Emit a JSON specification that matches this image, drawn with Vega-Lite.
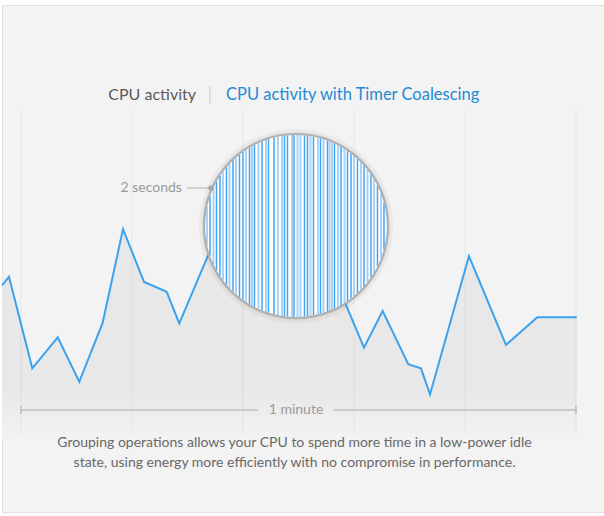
{
  "$schema": "https://vega.github.io/schema/vega-lite/v6.json",
  "width": 602,
  "height": 507,
  "autosize": {"type": "none"},
  "padding": {"left": 2, "top": 5, "right": 0, "bottom": 4},
  "background": "#ffffff",
  "config": {"view": {"fill": "#f3f3f3", "stroke": "#e2e2e2"}, "font": "Lato"},
  "datasets": {
    "cpu": [
      {"t": -2.05, "v": 46.5}, {"t": -1.3, "v": 49.4}, {"t": 1.22, "v": 18.9}, {"t": 3.97, "v": 29.2},
      {"t": 6.3, "v": 14.4}, {"t": 8.83, "v": 34.1}, {"t": 11.03, "v": 65.3}, {"t": 13.3, "v": 47.7},
      {"t": 15.75, "v": 44.4}, {"t": 17.11, "v": 33.9}, {"t": 20.25, "v": 56.7}, {"t": 23.14, "v": 70.0},
      {"t": 26.05, "v": 58.3}, {"t": 29.08, "v": 66.7}, {"t": 31.46, "v": 48.3}, {"t": 33.19, "v": 54.3},
      {"t": 37.08, "v": 25.8}, {"t": 39.1, "v": 38.0}, {"t": 41.87, "v": 20.3}, {"t": 43.24, "v": 18.9},
      {"t": 44.22, "v": 10.2}, {"t": 48.43, "v": 56.3}, {"t": 52.43, "v": 26.7}, {"t": 55.82, "v": 35.9},
      {"t": 60.08, "v": 35.9}
    ],
    "grid": [
      {"t": 0, "v": 105, "v2": -3}, {"t": 12, "v": 105, "v2": -3}, {"t": 24, "v": 105, "v2": -3},
      {"t": 36, "v": 105, "v2": -3}, {"t": 48, "v": 105, "v2": -3}, {"t": 60, "v": 105, "v2": -3}
    ],
    "segments": [
      {"role": "bracket", "t": 0, "t2": 25.6, "v": 5, "v2": 5},
      {"role": "bracket", "t": 33.8, "t2": 60, "v": 5, "v2": 5},
      {"role": "bracket", "t": 0, "t2": 0, "v": 6.3, "v2": 3.7},
      {"role": "bracket", "t": 60, "t2": 60, "v": 6.3, "v2": 3.7},
      {"role": "connector", "t": 17.95, "t2": 20.5, "v": 79, "v2": 79},
      {"role": "separator", "t": 20.43, "t2": 20.43, "v": 113, "v2": 107}
    ],
    "lens": [{"t": 29.73, "v": 66.33}],
    "pin": [{"t": 20.55, "v": 79}],
    "stripes": [
      {"t": 20.108, "v": 72.66, "v2": 60.01, "kind": "light"},
      {"t": 20.432, "v": 76.25, "v2": 56.42, "kind": "dark"},
      {"t": 20.811, "v": 79.13, "v2": 53.53, "kind": "light"},
      {"t": 21.135, "v": 81.09, "v2": 51.57, "kind": "dark"},
      {"t": 21.514, "v": 83.02, "v2": 49.65, "kind": "dark"},
      {"t": 21.838, "v": 84.44, "v2": 48.22, "kind": "light"},
      {"t": 22.216, "v": 85.91, "v2": 46.75, "kind": "dark"},
      {"t": 22.541, "v": 87.04, "v2": 45.63, "kind": "light"},
      {"t": 22.919, "v": 88.22, "v2": 44.44, "kind": "dark"},
      {"t": 23.243, "v": 89.14, "v2": 43.53, "kind": "light"},
      {"t": 23.622, "v": 90.11, "v2": 42.55, "kind": "dark"},
      {"t": 24.0, "v": 90.99, "v2": 41.68, "kind": "dark"},
      {"t": 24.324, "v": 91.68, "v2": 40.99, "kind": "light"},
      {"t": 24.703, "v": 92.41, "v2": 40.26, "kind": "dark"},
      {"t": 24.973, "v": 92.89, "v2": 39.78, "kind": "light"},
      {"t": 25.243, "v": 93.33, "v2": 39.34, "kind": "dark"},
      {"t": 25.676, "v": 93.97, "v2": 38.7, "kind": "light"},
      {"t": 26.054, "v": 94.47, "v2": 38.2, "kind": "dark"},
      {"t": 26.486, "v": 94.97, "v2": 37.7, "kind": "light"},
      {"t": 26.757, "v": 95.25, "v2": 37.42, "kind": "dark"},
      {"t": 27.351, "v": 95.77, "v2": 36.9, "kind": "dark"},
      {"t": 27.784, "v": 96.07, "v2": 36.6, "kind": "light"},
      {"t": 28.216, "v": 96.31, "v2": 36.36, "kind": "light"},
      {"t": 28.486, "v": 96.42, "v2": 36.24, "kind": "dark"},
      {"t": 28.811, "v": 96.53, "v2": 36.13, "kind": "dark"},
      {"t": 29.297, "v": 96.64, "v2": 36.03, "kind": "light"},
      {"t": 29.514, "v": 96.66, "v2": 36.01, "kind": "dark"},
      {"t": 29.892, "v": 96.66, "v2": 36.0, "kind": "light"},
      {"t": 30.216, "v": 96.63, "v2": 36.04, "kind": "light"},
      {"t": 30.649, "v": 96.53, "v2": 36.13, "kind": "dark"},
      {"t": 30.973, "v": 96.42, "v2": 36.24, "kind": "dark"},
      {"t": 31.297, "v": 96.28, "v2": 36.39, "kind": "light"},
      {"t": 31.622, "v": 96.1, "v2": 36.57, "kind": "dark"},
      {"t": 32.108, "v": 95.77, "v2": 36.9, "kind": "light"},
      {"t": 32.378, "v": 95.55, "v2": 37.12, "kind": "dark"},
      {"t": 32.703, "v": 95.25, "v2": 37.42, "kind": "light"},
      {"t": 33.135, "v": 94.79, "v2": 37.88, "kind": "dark"},
      {"t": 33.351, "v": 94.54, "v2": 38.13, "kind": "light"},
      {"t": 33.622, "v": 94.19, "v2": 38.47, "kind": "light"},
      {"t": 33.892, "v": 93.82, "v2": 38.85, "kind": "dark"},
      {"t": 34.27, "v": 93.24, "v2": 39.42, "kind": "light"},
      {"t": 34.595, "v": 92.7, "v2": 39.97, "kind": "dark"},
      {"t": 34.973, "v": 92.0, "v2": 40.67, "kind": "light"},
      {"t": 35.297, "v": 91.34, "v2": 41.32, "kind": "dark"},
      {"t": 35.676, "v": 90.5, "v2": 42.17, "kind": "dark"},
      {"t": 36.0, "v": 89.71, "v2": 42.96, "kind": "light"},
      {"t": 36.378, "v": 88.69, "v2": 43.98, "kind": "dark"},
      {"t": 36.757, "v": 87.56, "v2": 45.1, "kind": "light"},
      {"t": 37.081, "v": 86.49, "v2": 46.18, "kind": "dark"},
      {"t": 37.459, "v": 85.1, "v2": 47.57, "kind": "light"},
      {"t": 37.838, "v": 83.51, "v2": 49.15, "kind": "dark"},
      {"t": 38.162, "v": 81.96, "v2": 50.71, "kind": "light"},
      {"t": 38.541, "v": 79.83, "v2": 52.84, "kind": "dark"},
      {"t": 38.919, "v": 77.17, "v2": 55.5, "kind": "light"},
      {"t": 39.243, "v": 74.06, "v2": 58.61, "kind": "dark"}
    ],
    "labels": [
      {"role": "title", "t": 18.92, "v": 110, "text": "CPU activity"},
      {"role": "titleBlue", "t": 22.16, "v": 110, "text": "CPU activity with Timer Coalescing"},
      {"role": "note", "t": 17.4, "v": 79, "text": "2 seconds"},
      {"role": "scale", "t": 29.73, "v": 5, "text": "1 minute"},
      {"role": "caption", "t": 29.57, "v": -6, "text": "Grouping operations allows your CPU to spend more time in a low-power idle"},
      {"role": "caption", "t": 29.57, "v": -12.67, "text": "state, using energy more efficiently with no compromise in performance."}
    ]
  },
  "encoding": {
    "x": {"field": "t", "type": "quantitative", "scale": {"domain": [-2.054, 63.03], "nice": false, "zero": false}, "axis": null},
    "y": {"field": "v", "type": "quantitative", "scale": {"domain": [-29, 140], "nice": false, "zero": false}, "axis": null}
  },
  "layer": [
    {
      "data": {"name": "cpu"},
      "mark": {
        "type": "area",
        "color": {"gradient": "linear", "x1": 0, "y1": 0, "x2": 0, "y2": 1,
          "stops": [{"offset": 0, "color": "#e8e8e8"}, {"offset": 0.78, "color": "#e8e8e8"}, {"offset": 1, "color": "#f3f3f3"}]}
      },
      "encoding": {"y2": {"datum": -5}}
    },
    {
      "data": {"name": "grid"},
      "mark": {"type": "rule", "color": "#000000", "opacity": 0.055, "strokeWidth": 1},
      "encoding": {"y2": {"field": "v2"}}
    },
    {
      "data": {"name": "cpu"},
      "mark": {"type": "line", "color": "#3ca2ee", "strokeWidth": 2, "strokeJoin": "miter"}
    },
    {
      "data": {"name": "segments"},
      "transform": [{"filter": "datum.role === 'bracket'"}],
      "mark": {"type": "rule", "color": "#bdbdbd", "strokeWidth": 1.5},
      "encoding": {"x2": {"field": "t2"}, "y2": {"field": "v2"}}
    },
    {
      "data": {"name": "segments"},
      "transform": [{"filter": "datum.role === 'separator'"}],
      "mark": {"type": "rule", "color": "#c9c9c9", "strokeWidth": 1},
      "encoding": {"x2": {"field": "t2"}, "y2": {"field": "v2"}}
    },
    {
      "data": {"name": "segments"},
      "transform": [{"filter": "datum.role === 'connector'"}],
      "mark": {"type": "rule", "color": "#adadad", "strokeWidth": 1},
      "encoding": {"x2": {"field": "t2"}, "y2": {"field": "v2"}}
    },
    {
      "data": {"name": "lens"},
      "mark": {"type": "point", "shape": "circle", "filled": true, "size": 37636, "color": "#000000", "opacity": 0.04, "strokeWidth": 0}
    },
    {
      "data": {"name": "lens"},
      "mark": {"type": "point", "shape": "circle", "filled": true, "size": 35344, "color": "#000000", "opacity": 0.06, "strokeWidth": 0}
    },
    {
      "data": {"name": "lens"},
      "mark": {"type": "point", "shape": "circle", "filled": true, "size": 33856, "color": "#ffffff", "opacity": 1, "strokeWidth": 0}
    },
    {
      "data": {"name": "stripes"},
      "mark": {"type": "rule"},
      "encoding": {
        "y2": {"field": "v2"},
        "color": {"field": "kind", "type": "nominal", "scale": {"domain": ["dark", "light"], "range": ["#45a4f0", "#a9d2f6"]}, "legend": null},
        "strokeWidth": {"field": "kind", "type": "nominal", "scale": {"domain": ["dark", "light"], "range": [1.5, 2]}, "legend": null}
      }
    },
    {
      "data": {"name": "lens"},
      "mark": {"type": "point", "shape": "circle", "filled": false, "size": 33856, "color": "#b0b0b0", "strokeWidth": 2.2, "opacity": 1}
    },
    {
      "data": {"name": "pin"},
      "mark": {"type": "point", "shape": "circle", "filled": true, "size": 30, "color": "#a8a8a8", "opacity": 1}
    },
    {
      "data": {"name": "labels"},
      "transform": [{"filter": "datum.role === 'title'"}],
      "mark": {"type": "text", "align": "right", "baseline": "middle", "fontSize": 16, "color": "#595959"},
      "encoding": {"text": {"field": "text"}}
    },
    {
      "data": {"name": "labels"},
      "transform": [{"filter": "datum.role === 'titleBlue'"}],
      "mark": {"type": "text", "align": "left", "baseline": "middle", "fontSize": 16.5, "color": "#1f8ad4"},
      "encoding": {"text": {"field": "text"}}
    },
    {
      "data": {"name": "labels"},
      "transform": [{"filter": "datum.role === 'note'"}],
      "mark": {"type": "text", "align": "right", "baseline": "middle", "fontSize": 14, "color": "#9a9a9a"},
      "encoding": {"text": {"field": "text"}}
    },
    {
      "data": {"name": "labels"},
      "transform": [{"filter": "datum.role === 'scale'"}],
      "mark": {"type": "text", "align": "center", "baseline": "middle", "fontSize": 14, "color": "#9a9a9a"},
      "encoding": {"text": {"field": "text"}}
    },
    {
      "data": {"name": "labels"},
      "transform": [{"filter": "datum.role === 'caption'"}],
      "mark": {"type": "text", "align": "center", "baseline": "middle", "fontSize": 14, "color": "#686868"},
      "encoding": {"text": {"field": "text"}}
    }
  ]
}
